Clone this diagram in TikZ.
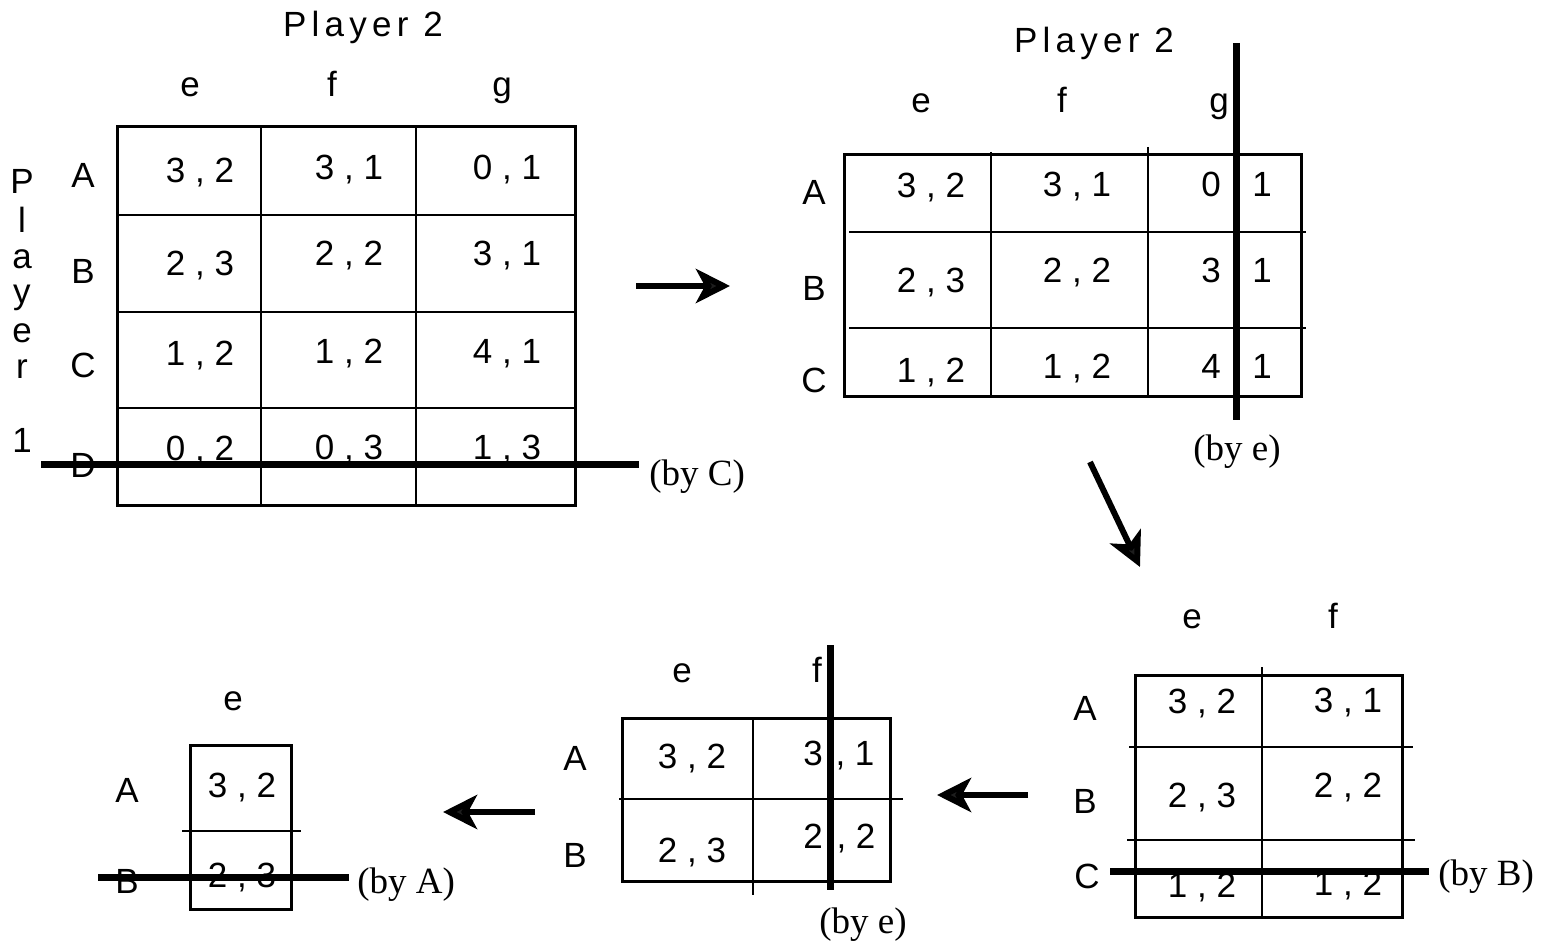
\documentclass[tikz,border=0pt]{standalone}
\usepackage{fontspec}
\setmainfont{Liberation Serif}
\setsansfont{Liberation Sans}
\usetikzlibrary{arrows.meta}
\definecolor{headgray}{HTML}{1E1E1E}
\tikzset{
  lab/.style={font=\sffamily\fontsize{17.5}{20}\selectfont, inner sep=0pt, anchor=base},
  ptitle/.style={font=\sffamily\fontsize{17.5}{20}\selectfont\addfontfeature{LetterSpace=15}, inner sep=0pt, anchor=base},
  note/.style={font=\rmfamily\fontsize{18.5}{21}\selectfont, inner sep=0pt, anchor=base},
  frame/.style={line width=1.5pt},
  grid/.style={line width=1.1pt},
  strike/.style={line width=3.5pt},
  arr/.style={line width=3pt, -{Stealth[length=17pt,width=17pt,inset=4.5pt,fill=headgray]}},
}
\begin{document}
\begin{tikzpicture}[x=0.5pt,y=-0.5pt]
\useasboundingbox (0,0) rectangle (1543,947);

% ================= Matrix 1 (top-left) =================
\node[ptitle] (t1) at (363,37) {Player 2};
\node[lab] (c1e) at (190,97) {e};
\node[lab] (c1f) at (332,97) {f};
\node[lab] (c1g) at (502,97) {g};
\node[lab] (p1P) at (22,193) {P};
\node[lab] (p1l) at (22,233) {l};
\node[lab] (p1a) at (22,268) {a};
\node[lab] (p1y) at (22,303) {y};
\node[lab] (p1e) at (22,342) {e};
\node[lab] (p1r) at (22,378) {r};
\node[lab] (p11) at (22,452) {1};
\node[lab] (r1A) at (83,188) {A};
\node[lab] (r1B) at (83,283) {B};
\node[lab] (r1C) at (83,377) {C};
\node[lab] (r1D) at (83,477) {D};
\draw[frame] (117,127) rectangle (575,505);
\draw[grid] (261,127) -- (261,505) (416,127) -- (416,505);
\draw[grid] (117,215) -- (575,215) (117,312) -- (575,312) (117,408) -- (575,408);
\node[lab] (m1a1) at (200,183) {3 , 2};
\node[lab] (m1a2) at (349,180) {3 , 1};
\node[lab] (m1a3) at (507,180) {0 , 1};
\node[lab] (m1b1) at (200,275) {2 , 3};
\node[lab] (m1b2) at (349,265) {2 , 2};
\node[lab] (m1b3) at (507,265) {3 , 1};
\node[lab] (m1c1) at (200,365) {1 , 2};
\node[lab] (m1c2) at (349,363) {1 , 2};
\node[lab] (m1c3) at (507,363) {4 , 1};
\node[lab] (m1d1) at (200,460) {0 , 2};
\node[lab] (m1d2) at (349,459) {0 , 3};
\node[lab] (m1d3) at (507,459) {1 , 3};
\coordinate (s1a) at (41,464);
\coordinate (s1b) at (639,464);
\draw[strike] (s1a) -- (s1b);
\node[note, anchor=base west] (by1) at (649,485) {(by C)};

% arrow 1
\coordinate (a1s) at (636,286);
\coordinate (a1e) at (730,286);
\draw[arr] (a1s) -- (a1e);

% ================= Matrix 2 (top-right) =================
\node[ptitle] (t2) at (1094,53) {Player 2};
\node[lab] (c2e) at (921,113) {e};
\node[lab] (c2f) at (1062,113) {f};
\node[lab] (c2g) at (1219,113) {g};
\node[lab] (r2A) at (814,205) {A};
\node[lab] (r2B) at (814,300) {B};
\node[lab] (r2C) at (814,392) {C};
\draw[frame] (844,155) rectangle (1301,396);
\draw[grid] (991,152) -- (991,398) (1148,147) -- (1148,398);
\draw[grid] (849,232) -- (1306,232) (849,328) -- (1306,328);
\node[lab] (m2a1) at (931,198) {3 , 2};
\node[lab] (m2a2) at (1077,197) {3 , 1};
\node[lab] (m2a3) at (1211,197) {0};
\node[lab] (m2a4) at (1262,197) {1};
\node[lab] (m2b1) at (931,292) {2 , 3};
\node[lab] (m2b2) at (1077,282) {2 , 2};
\node[lab] (m2b3) at (1211,282) {3};
\node[lab] (m2b4) at (1262,282) {1};
\node[lab] (m2c1) at (931,382) {1 , 2};
\node[lab] (m2c2) at (1077,378) {1 , 2};
\node[lab] (m2c3) at (1211,378) {4};
\node[lab] (m2c4) at (1262,378) {1};
\coordinate (s2a) at (1236,43);
\coordinate (s2b) at (1236,420);
\draw[strike] (s2a) -- (s2b);
\node[note] (by2) at (1237,460) {(by e)};

% arrow 2
\coordinate (a2s) at (1090,462);
\coordinate (a2e) at (1140,567);
\draw[arr] (a2s) -- (a2e);

% ================= Matrix 3 (bottom-right) =================
\node[lab] (c3e) at (1192,628) {e};
\node[lab] (c3f) at (1333,628) {f};
\node[lab] (r3A) at (1085,720) {A};
\node[lab] (r3B) at (1085,813) {B};
\node[lab] (r3C) at (1087,888) {C};
\draw[frame] (1135,675) rectangle (1402,917);
\draw[grid] (1262,667) -- (1262,917);
\draw[grid] (1129,747) -- (1413,747) (1127,840) -- (1415,840);
\node[lab] (m3a1) at (1202,713) {3 , 2};
\node[lab] (m3a2) at (1348,712) {3 , 1};
\node[lab] (m3b1) at (1202,807) {2 , 3};
\node[lab] (m3b2) at (1348,797) {2 , 2};
\node[lab] (m3c1) at (1202,897) {1 , 2};
\node[lab] (m3c2) at (1348,895) {1 , 2};
\coordinate (s3a) at (1110,871);
\coordinate (s3b) at (1429,871);
\draw[strike] (s3a) -- (s3b);
\node[note, anchor=base west] (by3) at (1438,885) {(by B)};

% arrow 3
\coordinate (a3s) at (1028,795);
\coordinate (a3e) at (937,795);
\draw[arr] (a3s) -- (a3e);

% ================= Matrix 4 (bottom-middle) =================
\node[lab] (c4e) at (682,682) {e};
\node[lab] (c4f) at (817,682) {f};
\node[lab] (r4A) at (575,770) {A};
\node[lab] (r4B) at (575,867) {B};
\draw[frame] (622,718) rectangle (890,881);
\draw[grid] (753,718) -- (753,895);
\draw[grid] (619,799) -- (903,799);
\node[lab] (m4a1) at (692,768) {3 , 2};
\node[lab] (m4a2) at (813,765) {3};
\node[lab] (m4a3) at (855,765) {, 1};
\node[lab] (m4b1) at (692,862) {2 , 3};
\node[lab] (m4b2) at (813,848) {2};
\node[lab] (m4b3) at (856,848) {, 2};
\coordinate (s4a) at (830,645);
\coordinate (s4b) at (830,890);
\draw[strike] (s4a) -- (s4b);
\node[note] (by4) at (863,933) {(by e)};

% arrow 4
\coordinate (a4s) at (535,812);
\coordinate (a4e) at (443,812);
\draw[arr] (a4s) -- (a4e);

% ================= Matrix 5 (bottom-left) =================
\node[lab] (c5e) at (233,710) {e};
\node[lab] (r5A) at (127,802) {A};
\node[lab] (r5B) at (127,893) {B};
\draw[frame] (190,745) rectangle (291,909);
\draw[grid] (182,831) -- (301,831);
\node[lab] (m5a1) at (242,797) {3 , 2};
\node[lab] (m5b1) at (242,887) {2 , 3};
\coordinate (s5a) at (98,877);
\coordinate (s5b) at (349,877);
\draw[strike] (s5a) -- (s5b);
\node[note, anchor=base west] (by5) at (357,893) {(by A)};
\end{tikzpicture}
\end{document}
